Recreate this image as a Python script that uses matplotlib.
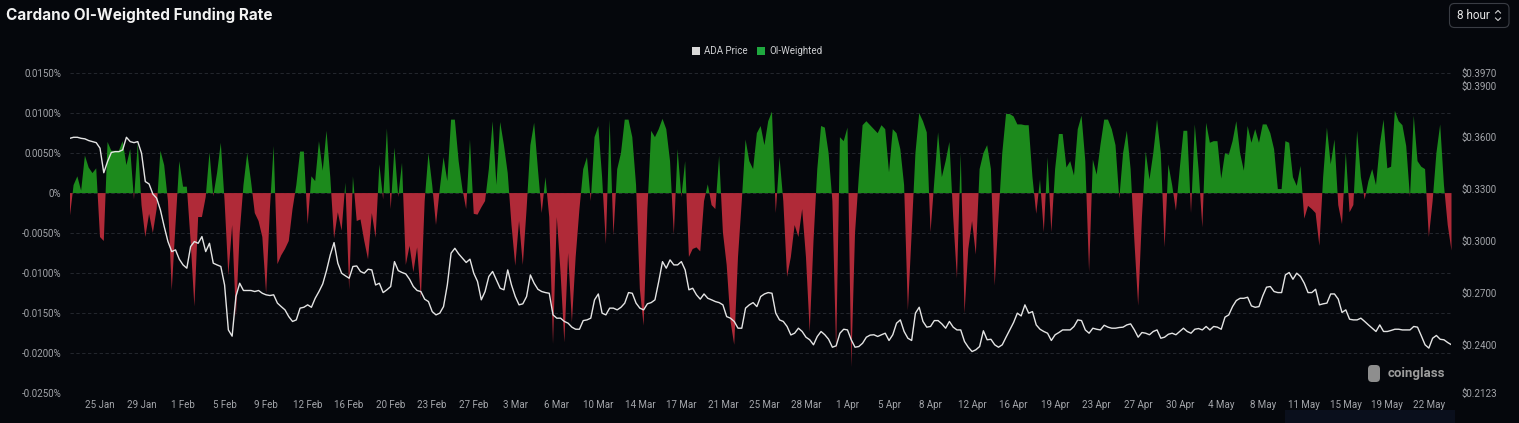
import matplotlib.pyplot as plt
import numpy as np
import pandas as pd
from matplotlib.patches import FancyBboxPatch, Rectangle

# OI-weighted funding rate, 8h steps, in units of 0.001 %
oi_rate = [
    -3.0, 1.0, 2.1, 0.3, 4.7, 3.2, 2.5, 3.1, -5.5, -6.0,
    6.4, 5.3, 5.3, 5.3, 6.5, 3.5, 5.5, -0.8, 6.3, -1.5,
    -5.5, -2.6, -5.0, -2.0, 5.3, 3.5, -1.0, -12.2, -4.0, 4.0,
    0.8, 0.8, -6.0, -14.2, -3.0, -3.0, -0.5, 5.1, -0.4, 2.5,
    6.3, -1.0, -10.3, -4.0, -15.5, -5.0, 1.0, 5.0, 1.5, -2.5,
    -3.5, -5.5, -12.6, -2.0, 5.9, -8.9, -7.8, -7.0, -6.0, -2.0,
    1.0, 5.2, 5.2, -3.9, 2.1, 1.5, 6.5, 2.8, 7.8, 2.0,
    -5.7, -2.4, -4.7, 1.3, -12.1, 2.1, -3.5, -3.3, -6.0, -8.3,
    -2.5, -5.6, 3.6, -0.8, 8.1, -2.0, 5.7, -0.5, 3.8, -9.0,
    -6.6, -9.9, -6.8, -13.2, -1.0, 5.0, 1.0, -4.0, 0.5, 4.5,
    1.5, 9.2, 9.2, 4.0, 0.5, -2.0, 6.7, -2.6, -2.7, -1.8,
    -1.0, 3.0, 9.0, 1.0, 8.9, 6.0, 2.5, -4.0, -9.1, -3.5,
    -9.0, -2.0, 6.0, 8.8, 3.0, -2.5, 2.0, -3.0, -18.9, -3.0,
    -10.0, -18.7, -7.5, -16.2, -8.0, -2.0, 3.0, 4.5, -1.0, 7.0,
    8.4, 2.0, -6.4, 9.2, -5.3, 3.0, 5.0, 9.2, 9.2, 7.0,
    1.0, -12.0, -16.6, -2.0, 7.8, 7.0, 8.0, 9.3, 8.0, 4.0,
    -5.2, 5.5, -0.5, 4.0, -8.0, -7.0, -6.8, -7.3, -1.0, 1.1,
    -1.5, -2.0, 4.7, -4.9, -9.0, -16.0, -19.0, -8.0, -1.0, 6.7,
    4.0, 3.0, 7.5, 8.4, 6.0, 9.0, 10.2, -2.5, 4.5, -1.0,
    -10.5, -8.0, -4.0, -5.5, -2.0, -8.0, -17.4, -6.0, 3.0, 8.4,
    8.2, 5.0, -1.0, -19.9, 7.0, 6.5, 8.2, -21.8, -5.0, 2.0,
    8.5, 9.0, 8.5, 8.0, 7.5, 8.5, 8.0, 2.6, 8.0, 7.5,
    5.5, 1.0, -14.7, -5.0, 5.0, 10.0, 9.0, 7.6, -4.9, 1.5,
    7.6, 2.0, 4.0, 6.4, -3.0, -10.7, 5.0, -15.1, -7.0, -3.5,
    -7.7, 3.0, 5.0, 6.0, 3.0, -11.6, -3.0, 5.0, 9.9, 9.9,
    9.6, 8.6, 8.6, 8.5, 8.5, 2.0, -2.6, 1.7, -4.9, 4.5,
    -4.9, 3.0, 7.4, 7.4, 3.2, 4.0, 2.2, 8.0, 9.7, 4.0,
    -9.9, 4.2, 2.3, 6.0, 9.2, 9.2, 8.0, 6.0, -0.7, 5.0,
    7.8, 3.0, -6.0, -14.1, -3.0, 5.2, 1.7, 5.0, 9.2, 5.0,
    -6.8, 3.6, 1.0, -2.2, 3.0, 7.8, 7.8, -2.5, 8.6, 3.0,
    -4.3, 8.8, 6.3, 6.5, 6.5, 1.8, 5.0, 4.8, 6.5, 9.0,
    5.0, 2.8, 8.4, 6.3, 8.0, 6.3, 8.6, 8.6, 7.5, 5.5,
    0.5, 0.5, 6.5, 6.3, 2.0, 0.9, 3.4, -3.2, -1.6, -2.0,
    -2.5, -6.6, 2.0, 8.2, 3.6, 6.7, -1.5, -3.9, 5.1, -2.4,
    -1.5, 7.8, 2.0, -0.8, 1.5, 3.0, 1.0, 6.0, 9.2, 3.1,
    3.3, 10.3, 9.0, 8.5, 5.9, -0.5, 9.7, 4.0, 3.3, 3.0,
    -5.5, -1.0, 5.0, 8.6, 1.0, -4.0, -7.2,
]

# ADA price (USD), same 8h steps
ada_price = [
    .3594, .3600, .3600, .3594, .3591, .3581, .3575, .3569, .3537, .3395,
    .3460, .3512, .3517, .3517, .3527, .3600, .3575, .3569, .3575, .3508,
    .3344, .3330, .3272, .3248, .3180, .3084, .2997, .2939, .2949, .2895,
    .2862, .2843, .2968, .2997, .2987, .3026, .2939, .2987, .2872, .2862,
    .2853, .2746, .2486, .2450, .2679, .2756, .2714, .2714, .2714, .2708,
    .2714, .2698, .2689, .2685, .2689, .2641, .2621, .2602, .2563, .2535,
    .2544, .2612, .2617, .2631, .2617, .2669, .2708, .2752, .2829, .2920,
    .2991, .2872, .2814, .2799, .2785, .2853, .2856, .2824, .2814, .2837,
    .2833, .2746, .2756, .2702, .2718, .2737, .2881, .2829, .2818, .2810,
    .2779, .2737, .2714, .2708, .2664, .2650, .2592, .2573, .2583, .2621,
    .2746, .2930, .2958, .2926, .2901, .2876, .2895, .2814, .2766, .2660,
    .2708, .2795, .2824, .2775, .2727, .2718, .2833, .2746, .2679, .2631,
    .2637, .2679, .2804, .2756, .2721, .2708, .2702, .2698, .2573, .2554,
    .2554, .2535, .2525, .2502, .2490, .2490, .2540, .2544, .2554, .2660,
    .2694, .2583, .2573, .2612, .2612, .2602, .2617, .2641, .2702, .2698,
    .2641, .2612, .2602, .2637, .2644, .2660, .2766, .2881, .2843, .2891,
    .2862, .2862, .2881, .2833, .2718, .2727, .2689, .2664, .2694, .2669,
    .2660, .2650, .2644, .2631, .2563, .2554, .2535, .2496, .2496, .2612,
    .2631, .2644, .2621, .2679, .2694, .2702, .2698, .2583, .2544, .2535,
    .2506, .2457, .2467, .2496, .2477, .2444, .2429, .2400, .2448, .2477,
    .2458, .2432, .2386, .2394, .2467, .2490, .2486, .2429, .2386, .2390,
    .2409, .2444, .2456, .2458, .2448, .2458, .2467, .2425, .2458, .2525,
    .2544, .2477, .2438, .2425, .2583, .2617, .2535, .2502, .2506, .2540,
    .2540, .2521, .2496, .2535, .2502, .2486, .2486, .2419, .2386, .2361,
    .2371, .2390, .2481, .2429, .2432, .2400, .2386, .2400, .2444, .2486,
    .2529, .2583, .2567, .2631, .2583, .2592, .2515, .2490, .2477, .2467,
    .2425, .2458, .2471, .2486, .2486, .2486, .2506, .2544, .2540, .2486,
    .2467, .2496, .2490, .2486, .2513, .2502, .2496, .2496, .2500, .2502,
    .2515, .2521, .2486, .2444, .2471, .2467, .2458, .2477, .2486, .2438,
    .2444, .2461, .2467, .2458, .2477, .2496, .2477, .2467, .2490, .2494,
    .2486, .2506, .2486, .2506, .2502, .2490, .2560, .2573, .2621, .2656,
    .2669, .2669, .2675, .2625, .2617, .2621, .2683, .2733, .2737, .2708,
    .2702, .2702, .2804, .2818, .2779, .2814, .2795, .2756, .2702, .2702,
    .2721, .2631, .2637, .2641, .2694, .2694, .2664, .2587, .2602, .2548,
    .2544, .2544, .2554, .2535, .2515, .2496, .2477, .2515, .2477, .2477,
    .2483, .2490, .2490, .2486, .2486, .2486, .2506, .2502, .2452, .2400,
    .2381, .2438, .2454, .2432, .2429, .2413, .2400,
]

start_time = '2023-01-22 16:00'
left_ticks = [0.015, 0.010, 0.005, 0.0, -0.005, -0.010, -0.015, -0.020, -0.025]
right_ticks = [0.3970, 0.3900, 0.3600, 0.3300, 0.3000, 0.2700, 0.2400, 0.2123]

bg = '#05070c'
green = '#1c8a1c'
red = '#b02a38'
label_col = '#a3a5aa'

oi = np.array(oi_rate) / 1000.0
price = np.array(ada_price)
x_oi = np.arange(len(oi))
x_px = np.arange(len(price))
dates = pd.date_range(start_time, periods=len(oi), freq='8h')

fig = plt.figure(figsize=(15.19, 4.23), dpi=100, facecolor=bg)
W, H = 1519, 423
ax = fig.add_axes([69.8 / W, 1 - 392.7 / H, (1451.5 - 69.8) / W, (392.7 - 73.3) / H])
ax.set_facecolor(bg)

# funding bars
ax.fill_between(x_oi, oi, 0, where=oi >= 0, interpolate=True, color=green, lw=0)
ax.fill_between(x_oi, oi, 0, where=oi < 0, interpolate=True, color=red, lw=0)
ax.set_xlim(0, len(oi) - 1)
ax.set_ylim(-0.025, 0.015)
ax.set_yticks(left_ticks)
ax.set_yticklabels(['0%' if v == 0 else f'{v:.4f}%' for v in left_ticks])
ax.grid(axis='y', color='#2a2d34', ls=(0, (4, 3)), lw=0.6)
ax.set_axisbelow(True)

tick_idx = list(range(8, len(oi), 11))
ax.set_xticks(tick_idx)
ax.set_xticklabels([f'{dates[i].day} {dates[i].strftime("%b")}' for i in tick_idx])

# price line on right axis
ax2 = ax.twinx()
ax2.plot(x_px, price, color='#e4e4e4', lw=1.0)
ax2.set_ylim(0.2123, 0.3970)
ax2.set_yticks(right_ticks)
ax2.set_yticklabels([f'${v:.4f}' for v in right_ticks])

for a in (ax, ax2):
    for s in a.spines.values():
        s.set_visible(False)
    a.tick_params(length=0, colors=label_col, labelsize=7)
    for lab in a.get_xticklabels() + a.get_yticklabels():
        lab.set_family('Roboto')
ax.tick_params(axis='y', pad=6)
ax.tick_params(axis='x', pad=5)
ax2.tick_params(axis='y', pad=7)

# overlay in pixel coordinates for title, legend, button, watermark
ov = fig.add_axes([0, 0, 1, 1])
ov.set_xlim(0, W)
ov.set_ylim(H, 0)
ov.axis('off')
ov.patch.set_alpha(0)

ov.text(6, 15.5, 'Cardano OI-Weighted Funding Rate', color='#f2f2f2', fontsize=11,
        fontweight='bold', family='Inter', va='center', ha='left')

ov.add_patch(FancyBboxPatch((1449.5, 3.5), 59.5, 24, boxstyle='round,pad=0,rounding_size=5',
                            fc=bg, ec='#3a3d44', lw=0.8))
ov.text(1457, 15.5, '8 hour', color='#e6e6e6', fontsize=8.5, family='Roboto', va='center')
ov.plot([1495.5, 1498, 1500.5], [13, 10.5, 13], color='#cfcfcf', lw=0.8)
ov.plot([1495.5, 1498, 1500.5], [18, 20.5, 18], color='#cfcfcf', lw=0.8)

# legend
ov.add_patch(Rectangle((692, 47), 7.5, 8, fc='#d9d9d9', ec='none'))
ov.text(704, 51.3, 'ADA Price', color='#cfd0d3', fontsize=7, family='Roboto', va='center')
ov.add_patch(Rectangle((757, 47), 7.5, 8, fc='#1fa83f', ec='none'))
ov.text(769, 51.3, 'OI-Weighted', color='#cfd0d3', fontsize=7, family='Roboto', va='center')

# watermark
ov.add_patch(FancyBboxPatch((1368, 365), 12, 17, boxstyle='round,pad=0,rounding_size=4',
                            fc='#8e8e8e', ec='none'))
ov.text(1388, 373.5, 'coinglass', color='#9c9c9c', fontsize=9.5, fontweight='bold',
        family='Roboto', va='center')

# bottom slider remnant
ov.add_patch(Rectangle((1285, 410), 170, 13, fc='#0a0f1c', ec='none'))

fig.savefig('out.png', dpi=100, facecolor=bg)
